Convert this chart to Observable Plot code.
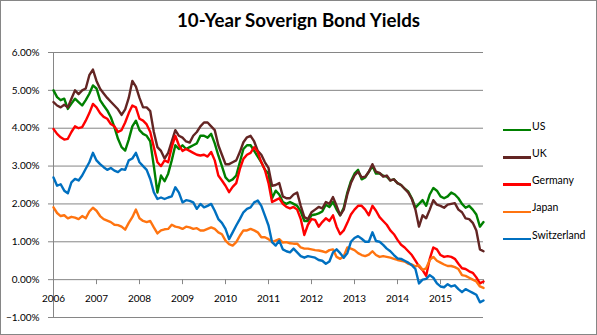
<!DOCTYPE html>
<html><head><meta charset="utf-8">
<script src="https://cdn.jsdelivr.net/npm/d3@7"></script>
<script src="https://cdn.jsdelivr.net/npm/@observablehq/plot@0.6"></script>
<style>
body{margin:0;background:#fff;}
#wrap{position:relative;width:597px;height:335px;font-family:Lato,"Open Sans",sans-serif;color:#000;overflow:hidden;}
#chart{position:absolute;left:0;top:0;}
#title{position:absolute;left:0;top:8px;width:597px;text-align:center;font-weight:bold;font-size:18.7px;line-height:24px;}
#frame{position:absolute;left:0;top:0;width:597px;height:335px;box-sizing:border-box;border:1px solid #868686;}
.sw{position:absolute;left:503px;width:28px;height:2.5px;}
.lb{position:absolute;left:532px;font-size:10.5px;line-height:12px;white-space:nowrap;}
</style></head><body>
<div id="wrap"><div id="chart"></div><div id="title">10-Year Soverign Bond Yields</div><div id="legend"></div><div id="frame"></div></div>
<script>
const countries = ["US", "UK", "Germany", "Japan", "Switzerland"];
const colors = ["#008000", "#632523", "#FF0000", "#FF7410", "#0070C0"];
const startYear = 2006; // monthly observations
const yearTicks = [2006, 2007, 2008, 2009, 2010, 2011, 2012, 2013, 2014, 2015];
const yearTickMarks = [2006, 2007, 2008, 2009, 2010, 2011, 2012, 2013, 2014, 2015, 2016];
const yTicks = [-1, 0, 1, 2, 3, 4, 5, 6];

const us = [5.00,4.82,4.74,4.78,4.51,4.65,4.78,4.69,4.60,4.74,
4.91,5.13,5.05,4.74,4.60,4.47,4.29,4.03,3.72,3.50,
3.41,3.70,4.05,4.20,3.95,3.85,3.80,3.65,3.00,2.30,
2.75,2.60,2.80,3.15,3.55,3.45,3.55,3.45,3.50,3.55,
3.60,3.80,3.80,3.75,3.85,3.60,3.28,3.00,2.70,2.60,
2.65,2.75,3.10,3.45,3.55,3.55,3.40,3.25,3.10,2.90,
2.80,2.15,2.35,2.25,2.05,2.00,2.05,2.00,1.95,1.80,
1.55,1.55,1.70,1.72,1.75,1.80,1.98,1.92,2.05,1.85,
1.70,1.90,2.30,2.60,2.80,2.90,2.65,2.70,2.85,3.00,
2.80,2.80,2.75,2.72,2.62,2.65,2.55,2.50,2.40,2.33,
2.15,1.90,2.00,2.10,1.95,2.25,2.42,2.35,2.20,2.15,
2.20,2.30,2.25,2.15,2.00,1.90,1.95,1.85,1.72,1.40,
1.52];
const uk = [4.69,4.60,4.55,4.62,4.55,4.78,5.00,4.90,5.00,5.05,
5.40,5.55,5.25,5.04,4.92,4.80,4.70,4.60,4.50,4.35,
4.50,4.80,5.25,5.10,4.80,4.55,4.55,4.45,3.90,3.50,
3.40,3.20,3.35,3.65,3.95,3.80,3.75,3.65,3.62,3.80,
3.90,4.05,4.15,4.15,4.05,3.95,3.55,3.30,3.05,3.05,
3.10,3.15,3.37,3.63,3.76,3.80,3.65,3.40,3.30,3.10,
2.95,2.48,2.50,2.55,2.20,2.15,2.15,2.25,2.30,1.95,
1.65,1.60,1.78,1.85,1.92,1.88,2.05,2.00,2.18,1.95,
1.70,1.85,2.25,2.55,2.75,2.85,2.70,2.72,2.85,3.05,
2.85,2.82,2.72,2.75,2.62,2.65,2.55,2.50,2.40,2.30,
2.13,1.85,1.40,1.70,1.62,1.85,2.10,1.98,1.95,1.90,
1.98,2.00,2.02,1.85,1.78,1.62,1.60,1.50,1.30,0.80,
0.75];
const germany = [3.98,3.85,3.76,3.70,3.72,3.90,4.05,4.00,4.03,4.20,
4.40,4.64,4.55,4.40,4.30,4.25,4.11,4.05,3.90,3.95,
4.15,4.40,4.60,4.55,4.25,4.20,4.10,3.90,3.50,3.10,
3.00,3.15,3.10,3.50,3.80,3.55,3.40,3.45,3.40,3.35,
3.30,3.28,3.30,3.25,3.37,3.15,2.75,2.62,2.48,2.31,
2.45,2.55,2.92,3.19,3.30,3.35,3.50,3.37,3.10,2.90,
2.55,2.05,2.10,2.15,2.00,1.92,1.88,1.92,1.85,1.60,
1.18,1.45,1.60,1.58,1.40,1.52,1.62,1.55,1.70,1.40,
1.20,1.30,1.50,1.72,1.85,1.95,1.95,1.85,1.70,1.95,
1.82,1.65,1.55,1.45,1.30,1.20,1.05,0.92,0.85,0.75,
0.65,0.50,0.35,0.25,0.10,0.55,0.85,0.80,0.65,0.60,
0.62,0.60,0.55,0.42,0.30,0.28,0.22,0.18,0.06,-0.10,
-0.05];
const japan = [1.91,1.76,1.68,1.70,1.62,1.66,1.64,1.60,1.68,1.62,
1.80,1.90,1.82,1.68,1.60,1.56,1.52,1.45,1.44,1.40,
1.32,1.50,1.65,1.85,1.62,1.55,1.52,1.55,1.38,1.22,
1.30,1.33,1.34,1.45,1.40,1.38,1.34,1.40,1.38,1.34,
1.36,1.30,1.30,1.34,1.38,1.34,1.25,1.20,1.03,0.94,
0.90,0.99,1.16,1.30,1.30,1.34,1.30,1.25,1.12,1.12,
1.07,0.99,1.03,1.07,0.98,0.99,0.96,0.95,0.95,0.85,
0.82,0.82,0.80,0.78,0.77,0.75,0.72,0.78,0.80,0.60,
0.55,0.62,0.85,0.82,0.78,0.70,0.65,0.62,0.66,0.75,
0.65,0.60,0.62,0.60,0.58,0.55,0.52,0.50,0.48,0.42,
0.40,0.35,0.38,0.26,0.30,0.52,0.60,0.50,0.45,0.40,
0.36,0.36,0.33,0.28,0.12,0.10,0.05,0.00,-0.05,-0.18,
-0.22];
const switzerland = [2.70,2.48,2.52,2.35,2.28,2.57,2.66,2.62,2.75,2.93,
3.10,3.35,3.15,3.05,2.97,2.90,2.95,2.88,2.84,2.92,
2.90,3.15,3.20,3.35,3.10,3.00,2.90,2.66,2.31,2.13,
2.17,2.13,2.17,2.20,2.44,2.30,2.04,2.10,2.08,2.04,
1.87,2.00,1.91,1.95,2.00,1.82,1.60,1.50,1.34,1.07,
1.25,1.43,1.60,1.78,1.87,1.91,2.04,2.09,1.95,1.69,
1.43,0.99,0.90,1.03,0.80,0.75,0.72,0.82,0.72,0.62,
0.58,0.62,0.60,0.58,0.52,0.50,0.42,0.48,0.72,0.80,
0.70,0.58,0.70,1.00,1.10,1.15,1.08,1.00,1.00,1.25,
1.02,1.00,0.92,0.82,0.75,0.65,0.56,0.55,0.50,0.45,
0.38,0.28,-0.10,0.00,0.02,0.12,0.05,-0.10,-0.18,-0.20,
-0.12,-0.18,-0.15,-0.25,-0.33,-0.25,-0.30,-0.35,-0.40,-0.60,
-0.55];

const series = [us, uk, germany, japan, switzerland];
const rows = [];
series.forEach((s, k) => s.forEach((v, i) => rows.push({country: countries[k], t: startYear + i / 12, v})));

const pct = d3.format(".2f");
const plot = Plot.plot({
  width: 597, height: 335,
  marginLeft: 53, marginRight: 114, marginTop: 52, marginBottom: 18,
  style: {fontFamily: "Lato, 'Open Sans', sans-serif", fontSize: "10px", color: "#000", background: "transparent", overflow: "visible"},
  x: {domain: [2006, 2016], axis: null},
  y: {domain: [-1, 6], axis: null},
  color: {domain: countries, range: colors},
  marks: [
    Plot.ruleY(yTicks, {stroke: "#868686", strokeWidth: 1}),
    Plot.ruleX([2006], {stroke: "#868686", strokeWidth: 1}),
    Plot.axisY({ticks: yTicks, tickFormat: d => pct(d) + "%", tickSize: 5, tickPadding: 9, stroke: "#868686", label: null, fontSize: 10}),
    Plot.ruleX(yearTickMarks, {x: d => d, y1: 0, y2: 0, insetBottom: -5, stroke: "#868686"}),
    Plot.text(yearTicks, {x: d => d, y: 0, dy: 19, text: d => String(d), fontSize: 10, fill: "#000"}),
    Plot.line(rows, {x: "t", y: "v", z: "country", stroke: "country", strokeWidth: 2.4, strokeLinejoin: "round"})
  ]
});
document.getElementById("chart").appendChild(plot);

const legend = document.getElementById("legend");
countries.forEach((c, i) => {
  const y = 130 + 27.3 * i;
  const sw = document.createElement("div");
  sw.className = "sw";
  sw.style.top = (y - 1.25) + "px";
  sw.style.background = colors[i];
  legend.appendChild(sw);
  const lb = document.createElement("div");
  lb.className = "lb";
  lb.style.top = (y - 10.5) + "px";
  lb.textContent = c;
  legend.appendChild(lb);
});
</script>
</body></html>
